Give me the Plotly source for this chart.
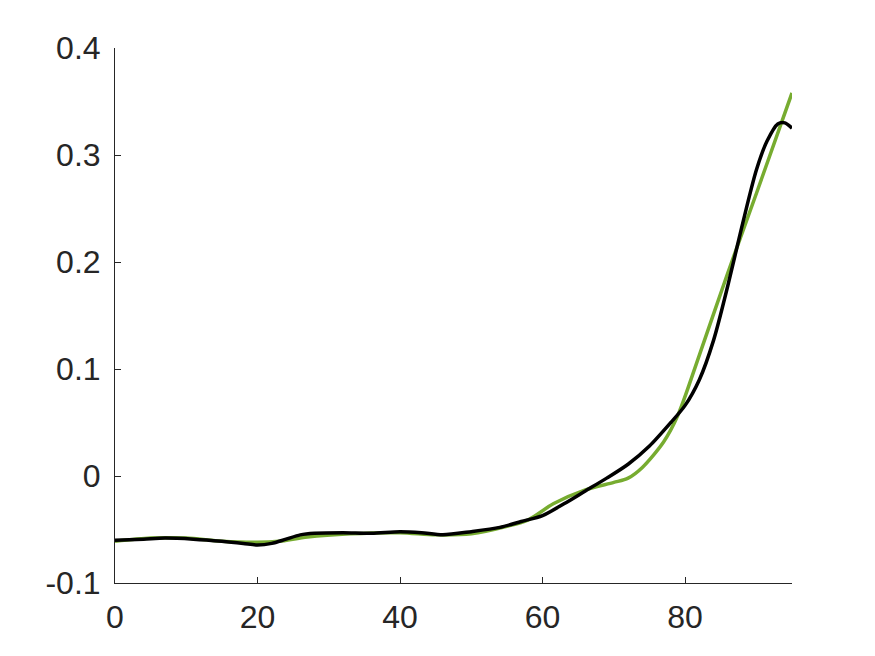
import plotly.graph_objects as go

# black curve
x_black = [0, 4, 7, 11, 15, 18, 20, 22, 24, 26, 28, 32, 36, 40, 43, 46, 50, 54, 57,
           60, 63, 66, 69, 72, 75, 78, 80, 82, 84, 86, 88, 90, 91.5, 93, 94, 95]
y_black = [-0.060, -0.059, -0.058, -0.059, -0.061, -0.063, -0.0645, -0.063, -0.059,
           -0.055, -0.0535, -0.053, -0.0535, -0.052, -0.053, -0.055, -0.052, -0.048,
           -0.0425, -0.037, -0.026, -0.014, -0.002, 0.011, 0.028, 0.050, 0.066, 0.090,
           0.127, 0.178, 0.234, 0.286, 0.313, 0.329, 0.330, 0.325]

# green curve
x_green = [0, 5, 10, 15, 20, 23, 27, 33, 40, 45, 50, 55, 58, 61.5, 66, 70, 72, 74,
           77, 79, 82, 86, 90, 95]
y_green = [-0.061, -0.058, -0.058, -0.061, -0.062, -0.061, -0.057, -0.054, -0.053,
           -0.055, -0.054, -0.047, -0.041, -0.026, -0.013, -0.006, -0.002, 0.008,
           0.032, 0.057, 0.113, 0.190, 0.264, 0.358]

x_ticks = [0, 20, 40, 60, 80]
y_ticks = [-0.1, 0, 0.1, 0.2, 0.3, 0.4]
y_ticklabels = ["-0.1", "0", "0.1", "0.2", "0.3", "0.4"]

fig = go.Figure()
fig.add_trace(go.Scatter(x=x_green, y=y_green, mode="lines",
                         line=dict(color="#77AC30", width=3.5, shape="spline", smoothing=0.8)))
fig.add_trace(go.Scatter(x=x_black, y=y_black, mode="lines",
                         line=dict(color="#000000", width=3.5, shape="spline", smoothing=0.8)))

axis_common = dict(
    showgrid=False, zeroline=False, showline=True, linecolor="#262626", linewidth=1,
    ticks="inside", ticklen=6, tickcolor="#262626", tickwidth=1,
    tickfont=dict(family="Liberation Sans, Arial, sans-serif", size=32, color="#262626"),
)

fig.update_xaxes(range=[0, 95], tickvals=x_ticks, ticklabelstandoff=6, **axis_common)
fig.update_yaxes(range=[-0.1, 0.4], tickvals=y_ticks, ticktext=y_ticklabels,
                 ticklabelstandoff=7, **axis_common)

fig.update_layout(
    width=875, height=656, showlegend=False,
    plot_bgcolor="white", paper_bgcolor="white",
    margin=dict(l=107, r=91, t=40, b=81),
)

fig.write_html("out.html")
